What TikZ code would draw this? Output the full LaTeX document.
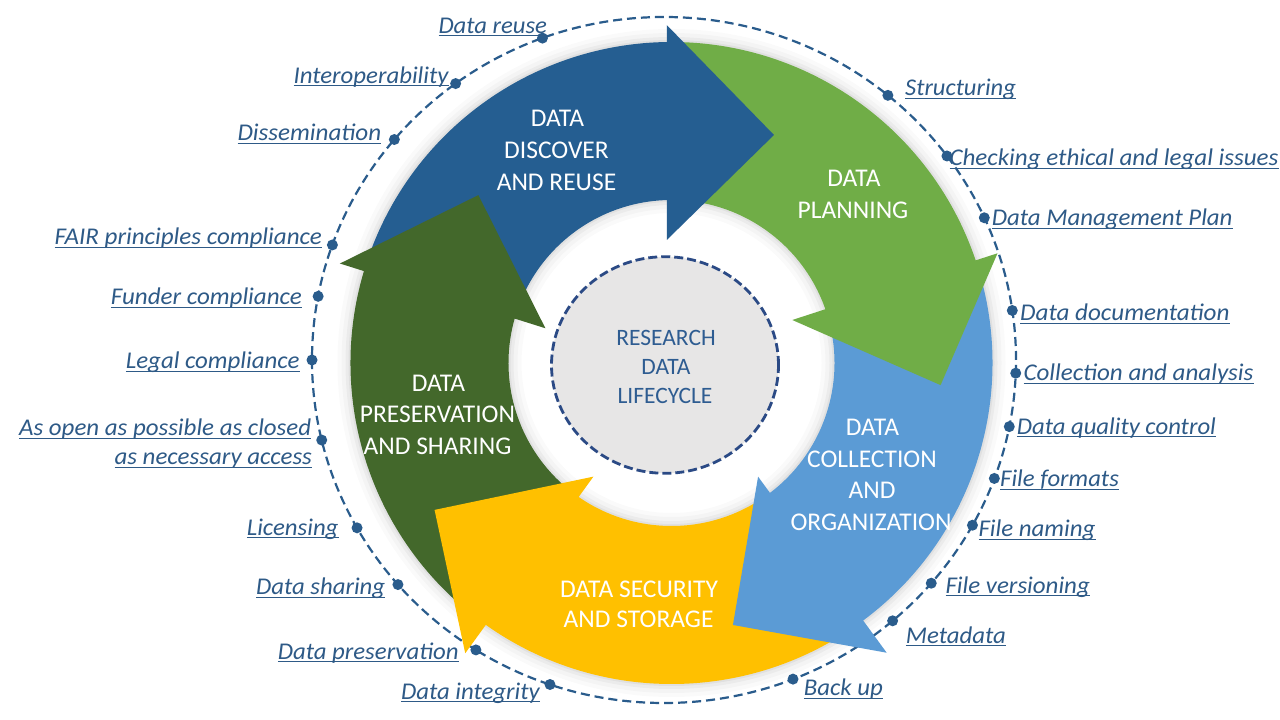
\documentclass[tikz,border=0pt]{standalone}
\usepackage{fontspec}
\setmainfont{Carlito}
\usepackage{graphicx}
\definecolor{cblue}{HTML}{255E91}
\definecolor{cgreen}{HTML}{70AD47}
\definecolor{clblue}{HTML}{5B9BD5}
\definecolor{cyellow}{HTML}{FFC000}
\definecolor{cdgreen}{HTML}{43682B}
\definecolor{cgrey}{HTML}{E7E6E6}
\definecolor{labc}{HTML}{2E5A87}
\definecolor{dotc}{HTML}{2A5C8C}
\definecolor{navyc}{HTML}{2B4A85}
\definecolor{ctrc}{HTML}{2E5C91}
\newcommand\ulab[2]{\resizebox{#1pt}{\height}{\setbox0=\hbox{#2}\rlap{\rule[-3pt]{\wd0}{1.1pt}}\box0}}
\newcommand\bandpath[3]{(#2:163) arc[start angle=#2, end angle=#3, radius=163] -- (#3:321) arc[start angle=#3, end angle=#2, radius=321] -- cycle}
\newcommand\headblue[1]{\path[#1] (92.2:123.1) -- (90.8:338) -- (65.8:250) -- cycle;}
\newcommand\headgreen[1]{\path[#1] (19.6:128.2) -- (18.6:344) -- (-4.7:270) -- cycle;}
\newcommand\headlblue[1]{\path[#1] (-52.7:142.9) -- (-53.4:360.9) -- (-76.8:269.1) -- cycle;}
\newcommand\headyellow[1]{\path[#1] (235.5:137.9) -- (234.6:356.1) -- (211.8:278.8) -- cycle;}
\newcommand\headdgreen[1]{\path[#1] (164.6:130.8) -- (163.3:346.2) -- (139:255.9) -- cycle;}
\begin{document}
\begin{tikzpicture}[x=1pt,y=1pt,
  lbl/.style={font=\fontsize{24}{28}\selectfont\itshape, text=labc, inner sep=0pt, anchor=base west},
  seg/.style={font=\fontsize{25.5}{30}\selectfont, text=white, inner sep=0pt, anchor=base},
  ctr/.style={font=\fontsize{23.5}{28}\selectfont, text=ctrc, inner sep=0pt, anchor=base},
  dot/.style={circle, fill=dotc, inner sep=0pt, minimum size=11pt},
  glowline/.style={draw=black, line join=round, fill=none}]
\fill[white] (0,0) rectangle (1280,720);
\useasboundingbox (0,0) rectangle (1280,720);

% outer dashed ellipse with dots
\begin{scope}[shift={(664,360)}]
  \draw[dotc, line width=2.2pt, dash pattern=on 9pt off 5pt] (0,0) ellipse[x radius=352, y radius=343];
  \foreach \t [count=\i] in {110.2,126.3,140.0,160.4,169.3,180,193.5,209.3,220.9,237.7,251.1,291.5,310.5,319.4,331.2,339.8,348.8,357.8,8.3,24.5,36.5,50.5}
    \node[dot] (d\i) at (\t:352 and 343) {};
\end{scope}

% ring
\begin{scope}[shift={(671.5,357)}]
  % soft shadow
  \foreach \w/\o in {26/0.018,18/0.025,10/0.035,4/0.045}{
    \draw[black, opacity=\o, line width=\w pt] (0,0) circle[radius=321];
    \draw[black, opacity=\o, line width=\w pt] (0,0) circle[radius=163];
  }
  % bands
  \fill[cblue]   \bandpath{}{162.5}{88};
  \fill[cgreen]  \bandpath{}{89.5}{16};
  \fill[clblue]  \bandpath{}{17.5}{-56};
  \fill[cyellow] \bandpath{}{-55}{-128};
  \fill[cdgreen] \bandpath{}{233}{161};
  % heads
  \headblue{fill=cblue}
  \headgreen{fill=cgreen}
  \headlblue{fill=clblue}
  \headyellow{fill=cyellow}
  \headdgreen{fill=cdgreen}
\end{scope}

% centre disc
\draw[navyc, fill=cgrey, line width=2.8pt, dash pattern=on 9pt off 4pt] (665,355) ellipse[x radius=113.5, y radius=108.3];
\node[ctr] (c1) at (666,374) {RESEARCH};
\node[ctr] (c2) at (666,345) {DATA};
\node[ctr] (c3) at (665,316) {LIFECYCLE};

% segment labels
\node[seg] (b1) at (557.5,593.3) {DATA};
\node[seg] (b2) at (556.5,561) {DISCOVER};
\node[seg] (b3) at (556.5,529.3) {AND REUSE};
\node[seg] (g1) at (854,533) {DATA};
\node[seg] (g2) at (853,501) {PLANNING};
\node[seg] (lb1) at (872.5,284) {DATA};
\node[seg] (lb2) at (872,252.3) {COLLECTION};
\node[seg] (lb3) at (872,221) {AND};
\node[seg] (lb4) at (871,189) {ORGANIZATION};
\node[seg] (y1) at (639,122.3) {DATA SECURITY};
\node[seg] (y2) at (638.6,92) {AND STORAGE};
\node[seg] (dg1) at (438.5,328.3) {DATA};
\node[seg] (dg2) at (437.5,297) {PRESERVATION};
\node[seg] (dg3) at (437.5,265) {AND SHARING};

% left labels
\node[lbl] (l1) at (438.3,686.7) {\ulab{108.5}{Data reuse}};
\node[lbl] (l2) at (293.3,636.7) {\ulab{155}{Interoperability}};
\node[lbl] (l3) at (237.3,579.3) {\ulab{143.7}{Dissemination}};
\node[lbl] (l4) at (54.3,475) {\ulab{267.4}{FAIR principles compliance}};
\node[lbl] (l5) at (110.7,415) {\ulab{191}{Funder compliance}};
\node[lbl] (l6) at (125.7,351) {\ulab{173.6}{Legal compliance}};
\node[lbl] (l7) at (19,284.3) {\ulab{292}{As open as possible as closed}};
\node[lbl] (l8) at (114.3,255) {\ulab{197.4}{as necessary access}};
\node[lbl] (l9) at (246.7,184.7) {\ulab{91.6}{Licensing}};
\node[lbl] (l10) at (256,125) {\ulab{129}{Data sharing}};
\node[lbl] (l11) at (277.6,60.7) {\ulab{180.8}{Data preservation}};
\node[lbl] (l12) at (400.8,20.7) {\ulab{138.8}{Data integrity}};
% right labels
\node[lbl] (r1) at (905,624.3) {\ulab{110.7}{Structuring}};
\node[lbl] (r2) at (949.3,554.3) {\ulab{329}{Checking ethical and legal issues}};
\node[lbl] (r3) at (991.7,494.3) {\ulab{240.6}{Data Management Plan}};
\node[lbl] (r4) at (1020,399.3) {\ulab{209.3}{Data documentation}};
\node[lbl] (r5) at (1023.3,339) {\ulab{230}{Collection and analysis}};
\node[lbl] (r6) at (1016.7,285.7) {\ulab{199}{Data quality control}};
\node[lbl] (r7) at (1000,233.3) {\ulab{118.7}{File formats}};
\node[lbl] (r8) at (978.3,183.3) {\ulab{117}{File naming}};
\node[lbl] (r9) at (945.3,126.7) {\ulab{144.4}{File versioning}};
\node[lbl] (r10) at (905.7,76.7) {\ulab{100}{Metadata}};
\node[lbl] (r11) at (803.7,24.3) {\ulab{79}{Back up}};
\end{tikzpicture}
\end{document}
